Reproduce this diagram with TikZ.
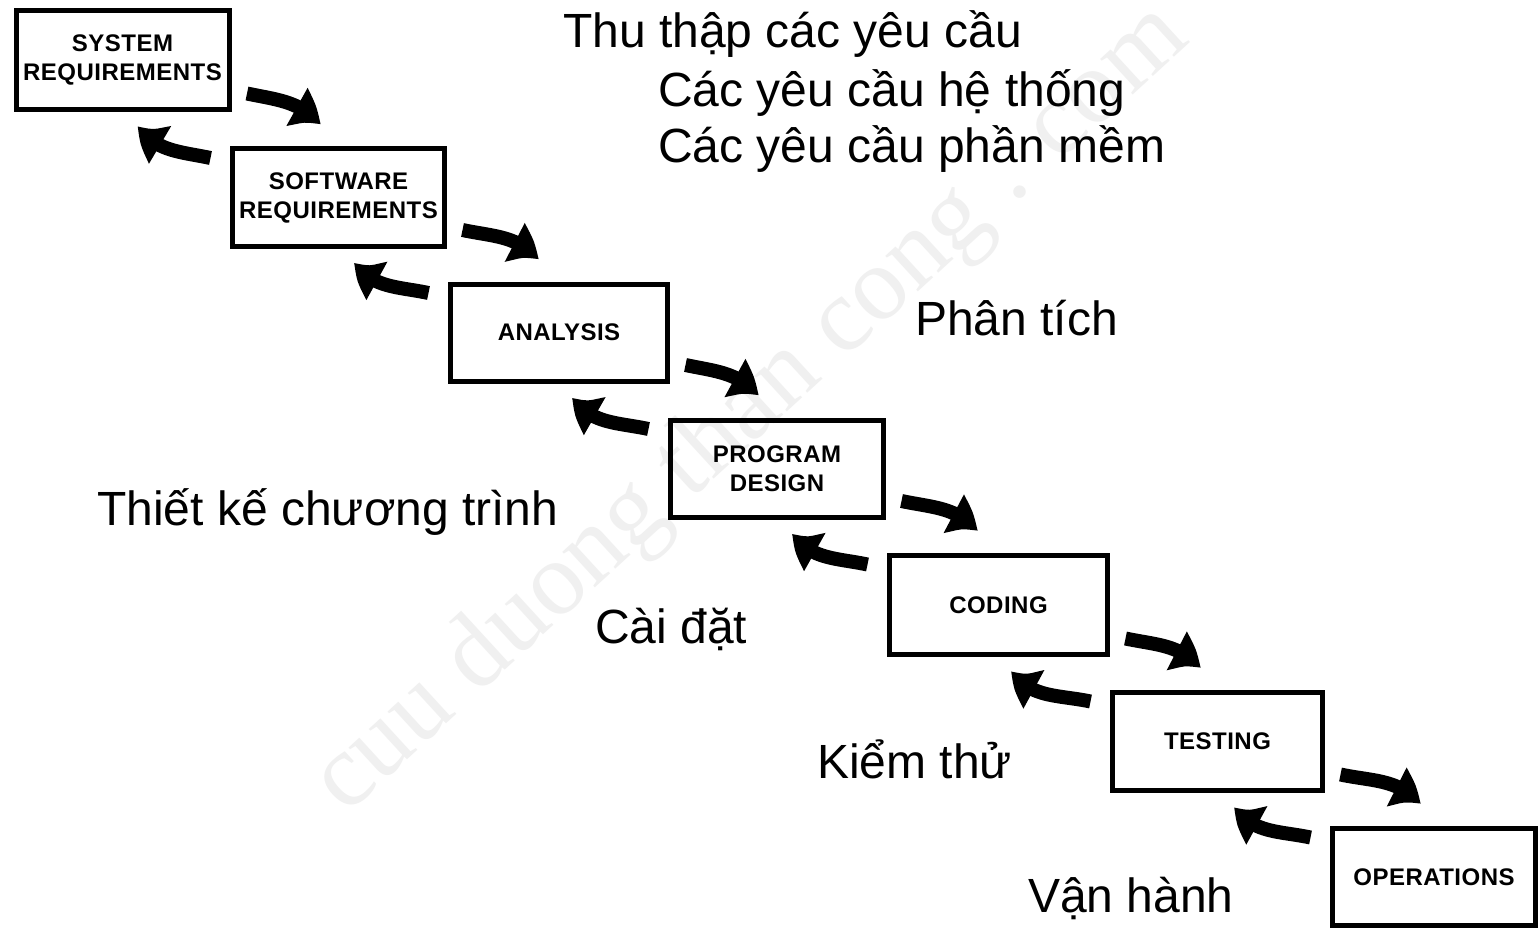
\documentclass[tikz,border=0pt]{standalone}
\usepackage{fontspec}
\setmainfont{Liberation Sans}
\newfontfamily\boxfont[LetterSpace=2]{Liberation Sans}
\newfontfamily\markfont{Liberation Serif}
\usetikzlibrary{arrows.meta,bending}

\tikzset{
  stage/.style={draw=black, line width=5pt, inner sep=0pt, align=center,
    minimum width=213pt, minimum height=97pt,
    font=\boxfont\bfseries\fontsize{24}{29}\selectfont},
  flow/.style={line width=14pt, line cap=butt,
    -{Triangle[width=40pt,length=32pt,bend]}},
  note/.style={anchor=base west, inner sep=0pt,
    font=\fontsize{48}{56}\selectfont},
  wmark/.style={inner sep=0pt, text=black!6, rotate=42.5,
    font=\markfont\fontsize{105}{110}\selectfont},
}

\begin{document}
\begin{tikzpicture}[x=1pt,y=1pt]
  % canvas
  \fill[white] (0,-931) rectangle (1540,0);
  \useasboundingbox (0,-931) rectangle (1540,0);

  % faint background mark
  \node[wmark] (mark) at (752,-410) {cuu duong than cong . com};

  % stages of the waterfall
  \node[stage, minimum height=99pt] (sys) at (122.5,-60)   {SYSTEM\\REQUIREMENTS};
  \node[stage, minimum width=212pt] (sw)  at (338.5,-197.5) {SOFTWARE\\REQUIREMENTS};
  \node[stage, minimum width=217pt] (ana) at (559,-332.5)  {ANALYSIS};
  \node[stage] (des) at (777,-468.5)  {PROGRAM\\DESIGN};
  \node[stage, minimum width=218pt, minimum height=99pt] (cod) at (998.5,-605) {CODING};
  \node[stage, minimum width=210pt, minimum height=98pt] (tst) at (1217.5,-741.5) {TESTING};
  \node[stage, minimum width=203pt] (ops) at (1434,-877) {OPERATIONS};

  % forward and feedback arrows between consecutive stages
  \foreach \a/\b in {sys/sw, sw/ana, ana/des, des/cod, cod/tst, tst/ops}{
    \draw[flow] ([xshift=15.5pt,yshift=18.5pt]\a.south east)
      to[out=-12,in=130] ([xshift=90.5pt,yshift=21.5pt]\b.north west);
    \draw[flow] ([xshift=-19.5pt,yshift=-11.5pt]\b.north west)
      to[out=168,in=-57] ([xshift=124.5pt,yshift=-13.5pt]\a.south west);
  }

  % Vietnamese captions
  \node[note] (gather) at (563,-48)  {Thu thập các yêu cầu};
  \node[note] (sysreq) at (658,-107) {Các yêu cầu hệ thống};
  \node[note] (swreq)  at (658,-163) {Các yêu cầu phần mềm};
  \node[note] (analy)  at (915,-335) {Phân tích};
  \node[note] (design) at (97,-525)  {Thiết kế chương trình};
  \node[note] (impl)   at (595,-643) {Cài đặt};
  \node[note] (test)   at (817,-778) {Kiểm thử};
  \node[note] (oper)   at (1028,-912) {Vận hành};
\end{tikzpicture}
\end{document}
